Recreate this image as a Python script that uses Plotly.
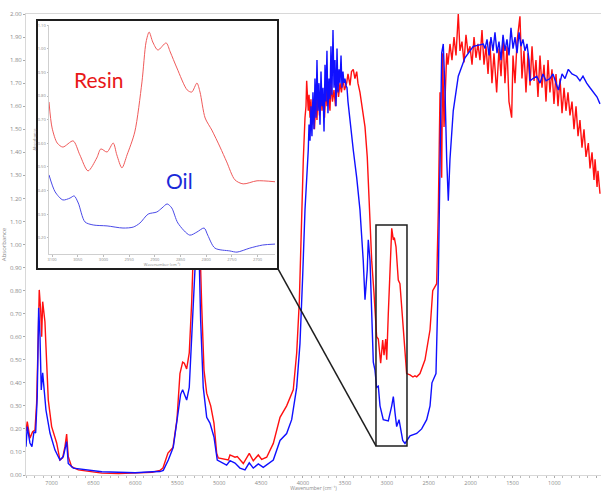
import plotly.graph_objects as go

# ---------------- main spectrum data ----------------
resin_wn = [7305, 7290, 7258, 7226, 7198, 7178, 7159, 7147, 7130, 7118, 7106, 7091, 7079, 7070, 7058, 7039,
            6999, 6939, 6900, 6868, 6840, 6820, 6801, 6761, 6681, 6542, 6400, 6200, 6000, 5800, 5706,
            5671, 5611, 5551, 5504, 5468, 5436, 5416, 5388, 5357, 5328, 5309, 5297, 5270, 5237, 5209,
            5181, 5149, 5101, 5062, 5030, 5011, 4891, 4871, 4811, 4784, 4712, 4641, 4593, 4533, 4493,
            4433, 4354, 4274, 4195, 4116, 4075, 4044, 4028, 3996,
            3976, 3964, 3956, 3946, 3937, 3928, 3916, 3905, 3893, 3877, 3863, 3845, 3833, 3821, 3803,
            3785, 3773, 3761, 3743, 3726, 3714, 3696, 3678, 3666, 3648, 3630, 3612, 3594, 3576, 3558,
            3541, 3523, 3505, 3479, 3463, 3439, 3421, 3400, 3380, 3359, 3344, 3320, 3290, 3260, 3233,
            3209, 3180, 3153, 3121, 3101, 3073, 3049, 3033, 3013, 3001, 2982, 2953, 2941, 2922, 2910,
            2890, 2863, 2843, 2822, 2806, 2783, 2763, 2723, 2688, 2664, 2643, 2604, 2564, 2544, 2484,
            2452, 2405, 2385, 2365, 2345, 2333, 2317, 2285,
            2270, 2246, 2222, 2198, 2174, 2147, 2127, 2103, 2079, 2055, 2031, 2007, 1983, 1959, 1936,
            1912, 1888, 1864, 1840, 1816, 1792, 1769, 1745, 1721, 1689, 1661, 1637, 1613, 1590, 1566,
            1542, 1510, 1494, 1470, 1446, 1411, 1387, 1363, 1339, 1315, 1291, 1267, 1243, 1220, 1196,
            1172, 1148, 1124, 1100, 1076, 1053, 1029, 1005, 981, 957, 933, 909, 885, 862, 838, 814,
            790, 766, 742, 718, 695, 671, 647, 623, 595, 575, 551, 527, 515, 491, 480, 456]
resin_abs = [0.19, 0.232, 0.16, 0.188, 0.195, 0.312, 0.60, 0.803, 0.716, 0.60, 0.752, 0.703, 0.665, 0.586, 0.456, 0.325,
             0.21, 0.139, 0.065, 0.074, 0.123, 0.178, 0.08, 0.036, 0.022, 0.015, 0.008, 0.006, 0.008, 0.012, 0.02,
             0.03, 0.095, 0.12, 0.24, 0.44, 0.49, 0.485, 0.46, 0.53, 0.75, 0.96, 1.10, 1.25, 1.10, 0.74,
             0.455, 0.355, 0.30, 0.225, 0.095, 0.074, 0.065, 0.087, 0.077, 0.080, 0.05, 0.094, 0.062, 0.087, 0.068,
             0.077, 0.137, 0.25, 0.30, 0.37, 0.53, 0.75, 1.0, 1.37,
             1.55, 1.60, 1.71, 1.62, 1.58, 1.65, 1.55, 1.63, 1.52, 1.60, 1.50, 1.63, 1.54, 1.66, 1.56,
             1.68, 1.58, 1.64, 1.55, 1.69, 1.60, 1.66, 1.58, 1.70, 1.62, 1.67, 1.60, 1.71, 1.64, 1.70,
             1.66, 1.72, 1.67, 1.70, 1.74, 1.69, 1.75, 1.76, 1.72, 1.75, 1.70, 1.66, 1.58, 1.51, 1.38,
             1.15, 0.93, 0.79, 0.60, 0.59, 0.485, 0.585, 0.52, 0.59, 0.50, 0.70, 0.99, 1.07, 1.02, 1.03,
             0.99, 0.846, 0.83, 0.73, 0.66, 0.556, 0.44, 0.434, 0.425, 0.43, 0.426, 0.44, 0.485, 0.50, 0.63,
             0.80, 0.83, 1.15, 1.66, 1.29, 1.83, 1.51, 1.83,
             1.78, 1.87, 1.80, 1.90, 1.82, 2.00, 1.84, 1.88, 1.79, 1.91, 1.83, 1.86, 1.78, 1.90, 1.81,
             1.87, 1.80, 1.93, 1.78, 1.86, 1.74, 1.88, 1.70, 1.83, 1.66, 1.85, 1.73, 1.90, 1.70, 1.86,
             1.62, 1.55, 1.82, 1.70, 1.88, 1.99, 1.72, 1.84, 1.66, 1.83, 1.69, 1.86, 1.71, 1.80, 1.64,
             1.82, 1.68, 1.78, 1.62, 1.80, 1.66, 1.76, 1.61, 1.74, 1.60, 1.72, 1.57, 1.68, 1.58, 1.66, 1.56,
             1.62, 1.50, 1.60, 1.47, 1.54, 1.42, 1.50, 1.38, 1.44, 1.33, 1.40, 1.28, 1.37, 1.25, 1.32, 1.22]

oil_wn = [7305, 7290, 7258, 7234, 7210, 7190, 7171, 7154, 7138, 7123, 7106, 7091, 7067, 7019, 6959, 6900,
          6860, 6820, 6801, 6741, 6581, 6400, 6200, 6000, 5800, 5706, 5667, 5607, 5548, 5500, 5460,
          5436, 5408, 5388, 5357, 5316, 5289, 5277, 5262, 5249, 5221, 5190, 5149, 5110, 5062, 5023,
          4911, 4871, 4811, 4752, 4692, 4641, 4593, 4533, 4474, 4354, 4274, 4195, 4135, 4075, 4036,
          4004, 3976, 3937,
          3928, 3916, 3905, 3893, 3881, 3869, 3857, 3845, 3833, 3821, 3809, 3797, 3785, 3773, 3761,
          3749, 3737, 3726, 3714, 3702, 3690, 3678, 3666, 3654, 3642, 3630, 3618, 3606, 3594, 3582,
          3570, 3558, 3546, 3535, 3523, 3511, 3499, 3487, 3475, 3463, 3439, 3400, 3359, 3320, 3281,
          3260, 3233, 3221, 3200, 3180, 3161, 3141, 3121, 3101, 3081, 3042, 2982, 2941, 2922, 2902,
          2882, 2854, 2834, 2810, 2783, 2723, 2643, 2584, 2524, 2484, 2461, 2413, 2385, 2365, 2345,
          2326, 2305, 2285, 2266, 2246, 2207, 2147, 2067, 1968, 1848,
          1828, 1804, 1780, 1757, 1733, 1709, 1685, 1661, 1637, 1613, 1590, 1566, 1542, 1518, 1494,
          1470, 1446, 1422, 1399, 1375, 1351, 1327, 1303, 1291, 1255, 1211, 1172, 1136, 1100, 1053,
          1017, 981, 953, 909, 873, 834, 790, 734, 695, 659, 615, 575, 535, 491, 456]
oil_abs = [0.123, 0.21, 0.139, 0.123, 0.188, 0.182, 0.34, 0.725, 0.60, 0.369, 0.443, 0.383, 0.282, 0.182, 0.108, 0.065,
           0.08, 0.145, 0.05, 0.03, 0.022, 0.014, 0.012, 0.010, 0.014, 0.015, 0.02, 0.065, 0.12, 0.24, 0.35,
           0.37, 0.34, 0.325, 0.38, 0.67, 0.89, 1.10, 1.20, 1.10, 0.67, 0.38, 0.25, 0.225, 0.165, 0.065,
           0.043, 0.062, 0.052, 0.03, 0.022, 0.053, 0.03, 0.048, 0.033, 0.065, 0.15, 0.18, 0.24, 0.38, 0.57,
           0.86, 1.15, 1.41,
           1.52, 1.45, 1.60, 1.47, 1.66, 1.50, 1.72, 1.55, 1.80, 1.58, 1.70, 1.52, 1.75, 1.60, 1.68,
           1.49, 1.78, 1.62, 1.84, 1.57, 1.72, 1.63, 1.86, 1.65, 1.93, 1.68, 1.80, 1.60, 1.85, 1.66,
           1.76, 1.70, 1.82, 1.68, 1.75, 1.70, 1.72, 1.69, 1.68, 1.62, 1.55, 1.41, 1.29, 1.15, 0.93,
           0.76, 0.89, 1.02, 0.93, 0.72, 0.49, 0.455, 0.38, 0.385, 0.30, 0.24, 0.235, 0.30, 0.34, 0.27,
           0.21, 0.24, 0.195, 0.15, 0.137, 0.17, 0.18, 0.20, 0.24, 0.30, 0.40, 0.44, 0.86, 1.44, 1.83,
           1.87, 1.66, 1.37, 1.19, 1.37, 1.58, 1.73, 1.81, 1.86, 1.87,
           1.85, 1.89, 1.82, 1.90, 1.84, 1.92, 1.83, 1.88, 1.80, 1.91, 1.84, 1.89, 1.82, 1.94, 1.85,
           1.90, 1.83, 1.92, 1.86, 1.89, 1.84, 1.87, 1.80, 1.71, 1.72, 1.73, 1.70, 1.74, 1.71, 1.72,
           1.74, 1.70, 1.67, 1.74, 1.72, 1.76, 1.74, 1.73, 1.71, 1.73, 1.70, 1.68, 1.66, 1.64, 1.61]

# ---------------- inset (zoomed C-H region) ----------------
inset_resin_wn = [3106, 3100, 3090, 3079, 3059, 3046, 3030, 3013, 3005, 2993, 2981, 2974, 2964, 2954, 2939,
                  2925, 2917, 2911, 2904, 2894, 2878, 2870, 2857, 2837, 2828, 2818, 2812, 2802, 2789, 2773,
                  2760, 2744, 2728, 2701, 2666]
inset_resin_abs = [0.775, 0.665, 0.601, 0.584, 0.610, 0.551, 0.483, 0.538, 0.576, 0.563, 0.601, 0.551, 0.496, 0.551, 0.648,
                   0.860, 1.029, 1.071, 1.029, 0.995, 1.025, 0.987, 0.919, 0.826, 0.817, 0.855, 0.817, 0.707, 0.656, 0.584,
                   0.521, 0.445, 0.428, 0.441, 0.437]
inset_oil_wn = [3106, 3094, 3079, 3065, 3057, 3049, 3036, 3020, 2993, 2962, 2942, 2929, 2913, 2896, 2886,
                2876, 2867, 2855, 2832, 2818, 2804, 2797, 2783, 2754, 2740, 2715, 2690, 2666]
inset_oil_abs = [0.466, 0.394, 0.360, 0.368, 0.377, 0.347, 0.267, 0.254, 0.250, 0.241, 0.245, 0.262, 0.300, 0.309, 0.326,
                 0.343, 0.326, 0.262, 0.211, 0.224, 0.241, 0.211, 0.156, 0.144, 0.139, 0.156, 0.169, 0.173]

main_x_ticks = [7000, 6500, 6000, 5500, 5000, 4500, 4000, 3500, 3000, 2500, 2000, 1500, 1000, 500]
inset_x_ticks = [3100, 3050, 3000, 2950, 2900, 2850, 2800, 2750, 2700]

RED = "#ff1010"
BLUE = "#1010ff"
GRAY = "#8a8a8a"
FONT = "Open Sans"
X_TITLE = "Wavenumber (cm\u207b\u00b9)"

fig = go.Figure()
# main traces
fig.add_trace(go.Scatter(x=resin_wn, y=resin_abs, mode="lines", line=dict(color=RED, width=1.4),
                         showlegend=False, hoverinfo="skip"))
fig.add_trace(go.Scatter(x=oil_wn, y=oil_abs, mode="lines", line=dict(color=BLUE, width=1.4),
                         showlegend=False, hoverinfo="skip"))
# cover subplot (white panel behind inset) - empty trace so the subplot exists
fig.add_trace(go.Scatter(x=[None], y=[None], xaxis="x2", yaxis="y2", showlegend=False, hoverinfo="skip"))
# inset traces
fig.add_trace(go.Scatter(x=inset_resin_wn, y=inset_resin_abs, xaxis="x3", yaxis="y3", mode="lines",
                         line=dict(color="#f05a5a", width=1, shape="spline", smoothing=0.8),
                         showlegend=False, hoverinfo="skip"))
fig.add_trace(go.Scatter(x=inset_oil_wn, y=inset_oil_abs, xaxis="x3", yaxis="y3", mode="lines",
                         line=dict(color="#4a4ae8", width=1, shape="spline", smoothing=0.8),
                         showlegend=False, hoverinfo="skip"))

L, T, B = 26, 14, 16
W, H = 601, 491
pw, ph = W - L, H - T - B


def px_x(p):
    return (p - L) / pw


def px_y(p):
    return (H - B - p) / ph


box_x0, box_x1 = px_x(37), px_x(278)
box_y0, box_y1 = px_y(269), px_y(20)

fig.update_layout(
    width=W, height=H,
    margin=dict(l=L, r=0, t=T, b=B, pad=0),
    paper_bgcolor="white", plot_bgcolor="white",
    font=dict(family=FONT, color=GRAY, size=6),
    xaxis=dict(range=[7305, 444], tickvals=main_x_ticks, ticktext=[str(v) for v in main_x_ticks],
               showgrid=False, zeroline=False, showline=True, linecolor="#d8d8d8", linewidth=1, mirror=True,
               ticks="outside", ticklen=2, tickcolor="#aaaaaa", tickfont=dict(size=5.5, color=GRAY),
               minor=dict(dtick=100, tick0=0, ticks="outside", ticklen=2, tickcolor="#bbbbbb"),
               title=dict(text=X_TITLE, font=dict(size=5, color=GRAY), standoff=5),
               automargin=False),
    yaxis=dict(range=[0, 2.0], dtick=0.1, tick0=0, tickformat=".2f",
               showgrid=False, zeroline=False, showline=True, linecolor="#d8d8d8", linewidth=1,
               ticks="outside", ticklen=2, tickcolor="#aaaaaa", tickfont=dict(size=6, color=GRAY),
               title=dict(text="Absorbance", font=dict(size=6, color=GRAY), standoff=2),
               automargin=False),
    xaxis2=dict(domain=[box_x0, box_x1], anchor="y2", range=[0, 1], visible=False, fixedrange=True),
    yaxis2=dict(domain=[box_y0, box_y1], anchor="x2", range=[0, 1], visible=False, fixedrange=True),
    xaxis3=dict(domain=[px_x(49), px_x(275)], anchor="y3", range=[3106, 2666], tickvals=inset_x_ticks,
                ticktext=[str(v) for v in inset_x_ticks],
                showgrid=False, zeroline=False, showline=True, linecolor="#cfcfcf", linewidth=1,
                ticks="outside", ticklen=1.5, tickcolor="#bbbbbb", tickfont=dict(size=4, color=GRAY),
                title=dict(text=X_TITLE, font=dict(size=4, color=GRAY), standoff=1)),
    yaxis3=dict(domain=[px_y(254), px_y(25)], anchor="x3", range=[0.131, 1.101], dtick=0.1, tick0=0,
                tickformat=".2f", showgrid=False, zeroline=False, showline=True, linecolor="#cfcfcf",
                linewidth=1, ticks="outside", ticklen=1.5, tickcolor="#bbbbbb",
                tickfont=dict(size=4, color=GRAY),
                title=dict(text="Absorbance", font=dict(size=4, color=GRAY), standoff=1)),
    shapes=[
        # white panel behind the inset, drawn in the cover subplot (above main traces)
        dict(type="rect", xref="x2", yref="y2", x0=0, x1=1, y0=0, y1=1, layer="below",
             fillcolor="white", line=dict(width=0)),
        # inset frame
        dict(type="rect", xref="paper", yref="paper", x0=box_x0, x1=box_x1, y0=box_y0, y1=box_y1,
             layer="above", line=dict(color="#1e1e1e", width=2)),
        # zoom box on main spectrum
        dict(type="rect", xref="x", yref="y", x0=3129, x1=2759, y0=0.126, y1=1.085, layer="above",
             line=dict(color="#1e1e1e", width=1.5)),
        # connector line
        dict(type="line", xref="x", yref="y", x0=4298, y0=0.894, x1=3129, y1=0.126, layer="above",
             line=dict(color="#1e1e1e", width=1.5)),
    ],
    annotations=[
        dict(text="Resin", xref="paper", yref="paper", x=px_x(98), y=px_y(79), showarrow=False,
             xanchor="center", yanchor="middle",
             font=dict(family="Lato", size=21, color="#e81818")),
        dict(text="Oil", xref="paper", yref="paper", x=px_x(180), y=px_y(180), showarrow=False,
             xanchor="center", yanchor="middle",
             font=dict(family="Lato", size=21, color="#1a2ad8")),
    ],
)

fig.write_html("out.html", config={"displayModeBar": False},
               post_script="document.body.style.margin='0';document.body.style.overflow='hidden';")
